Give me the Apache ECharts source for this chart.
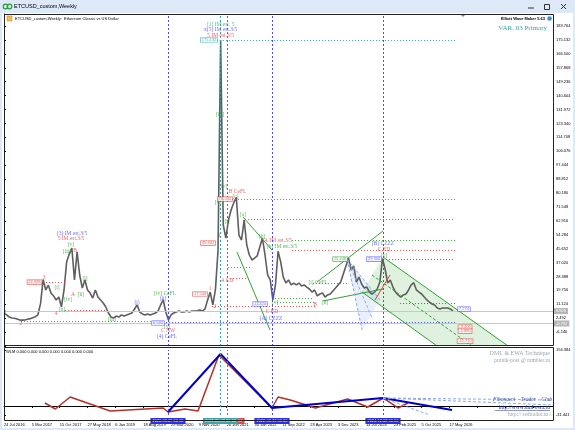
<!DOCTYPE html>
<html><head><meta charset="utf-8">
<script src="https://cdn.jsdelivr.net/npm/echarts/dist/echarts.min.js"></script>
<style>html,body{margin:0;padding:0;background:#fff}#c{width:575px;height:430px}</style>
</head><body><div id="c"></div>
<script>
// ---------- DATA ----------
const WEEK_STEP = 3; // weeks between price samples, week 0 = 24 Jul 2016
const prices = [5.5,4.5,3.2,2.6,2.4,2.0,1.4,1.3,1.4,1.8,
 2.2,2.8,3.4,4.6,11.5,26.5,20.0,23.0,18.1,16.3,
 13.8,15.6,9.5,20.0,37.4,42.3,46.0,26.2,43.6,29.3,
 21.2,26.2,20.0,18.1,15.0,20.0,15.6,13.8,11.9,9.4,
 5.7,3.2,2.6,3.8,3.2,4.5,3.8,4.5,5.1,5.7,
 8.2,10.7,6.3,5.1,4.5,5.1,4.5,5.1,5.7,6.9,
 10.7,13.8,6.3,1.4,4.5,5.7,6.3,6.9,6.3,6.3,
 6.9,6.3,6.9,6.9,6.9,7.6,6.9,8.2,13.8,18.7,
 10.7,20.0,44.8,175.1,60.3,52.2,63.4,69.6,74.0,77.5,
 54.1,51.0,63.4,47.9,41.7,38.6,39.8,41.1,46.7,52.2,
 41.7,29.3,26.2,13.8,23.1,44.0,37.4,28.0,24.3,26.2,
 23.1,24.3,23.1,24.3,22.5,23.1,21.8,20.6,18.7,20.0,
 16.3,17.5,18.1,15.6,16.9,17.5,19.4,21.2,23.1,24.9,
 29.9,34.9,39.8,32.4,34.9,24.9,28.0,23.7,21.2,21.8,
 18.7,17.5,18.7,20.6,24.9,39.5,33.0,24.3,26.2,21.8,
 18.7,16.9,15.6,16.9,17.5,20.0,23.1,24.5,20.0,18.7,
 17.5,15.6,13.8,12.5,11.3,10.7,8.8,8.2,8.8,8.8,
 8.8,8.2,6.9];
const dateLabels = ['24 Jul 2016','5 Mar 2017','15 Oct 2017','27 May 2018','6 Jan 2019','18 Aug 2019','29 Mar 2020','9 Nov 2020','20 Jun 2021','30 Jan 2022','11 Sep 2022','23 Apr 2023','3 Dec 2023','14 Jul 2024','23 Feb 2025','5 Oct 2025','17 May 2026'];
const priceTicks = ['183.764','175.132','166.500','157.868','149.236','140.604','131.972','123.340','114.708','106.076','97.444','88.812','80.180','71.548','62.916','54.284','45.652','37.020','28.388','19.756','11.124','2.492','-6.140'];
const indTicks = ['194.384','-31.441'];
const indWeeks  = [47,59,76,122,183,188.5,208,223,247,308,315,329,358,395,418,436,453,464];
const indValues = [10.2,-10.6,31.1,-17.5,-7.1,-21.0,-10.6,-17.5,177.0,-7.1,31.1,20.7,-7.1,24.1,-3.6,27.6,-7.1,10.2];
const zigWeeks  = [188.5,248.9,308,435.6,515];
const zigValues = [-21.0,180.5,-7.1,27.6,-14.1];
const vLines = [[188.5,'blue','2020.03.09 00:00'],[256.3,'red','2021.06.21 00:00'],[248.9,'teal','2021.05.03 00:00'],[308,'blue','2022.06.13 00:00'],[435.6,'blue','2024.12.02 00:00']];
const hLines = [
 [244.8,518.4,175.13,'teal'],[262.1,518.4,76.44,'red'],[277,518.4,64.0,'green'],
 [331,518.4,51.0,'green'],[331,518.4,44.8,'red'],[435.6,518.4,39.2,'blue'],
 [27.6,70.1,24.9,'red'],[70.1,118.4,7.6,'red'],[19.5,185.1,0.7,'red'],
 [179.3,518.4,0.1,'blue'],[239.1,357.5,10.0,'red'],[311.5,355.2,15.0,'green'],
 [313.8,357.5,12.5,'green'],[257.5,282.8,34.3,'red'],[259.8,282.8,27.4,'red'],
 [355.2,394.3,24.3,'green'],[455.2,518.4,11.9,'blue']];
const grayLevels = [[6.9,'6.905'],[-0.8,'-0.792']];
const trendLines = [
 [274.7,65.3,308,44.8,'green','solid'],[267.8,43.6,305.7,-4.8,'green','solid'],
 [359.8,24.9,435.6,56.6,'green','solid'],[366.7,13.2,435.6,20.6,'green','solid'],
 [435.6,40.45,579.3,-14.77,'green','solid'],[411.5,18.7,497.7,-14.77,'green','solid'],
 [423,29.3,537.9,-14.77,'green','dashed'],
 [394.3,39.2,432.2,13.8,'lblue','dashed'],[394.3,39.2,423,2.6,'lblue','dashed'],[394.3,39.2,411.5,-4.8,'lblue','dashed'],
 [426.4,13.8,443.7,29.3,'red','solid']];
const channelPoly = [[435.6,40.45],[579.3,-14.77],[497.7,-14.77],[411.5,18.7]];
const fanPoly = [[394.3,39.2],[432.2,13.8],[411.5,-4.8]];
const indFan = [[435.6,27.6,631,20.7],[435.6,27.6,631,3.3],[435.6,27.6,489.4,-31.4]];
const waveLabels = [
 [249,185.0,'[1] IM est. 5','teal'],[249,181.3,'x(5) IM est.3/5','blue'],[249,177.6,'5 IM est.3/5','red'],
 [78.2,55.3,'(3) IM est.3/5','blue'],[77,51.6,'5 IM est.3/5','red'],[77,47.9,'[v]','green'],
 [72.4,43.6,'[iii]','green'],[81.6,44.2,'B','red'],[46,27.5,'3','red'],[60.9,21.2,'[i]','green'],
 [73.6,13.8,'[iv]','green'],[79.3,16.9,'A','red'],[88.5,16.9,'[ii]','green'],[93.1,26.8,'[i]','green'],
 [59.8,5.1,'4','red'],[66.7,7.6,'[ii]','green'],[2,5.7,'1','red'],[19.5,-1.1,'2','red'],
 [124.1,1.4,'[iii]','green'],[152.9,11.9,'(i)','blue'],[185.1,17.5,'[iv] CeFL','green'],
 [182.8,14.4,'(ii)','blue'],[187.4,-2.4,'[v]','green'],[188.5,-5.5,'C NW','red'],[187.4,-9.2,'(4) CeFL','blue'],
 [236.8,20.6,'1','red'],[242.5,10.0,'2','red'],[247.1,53.5,'3','red'],[248.3,128.6,'[iii]','green'],
 [251.7,83.9,'[iv]','green'],[246,74.0,'[v]','green'],[268.5,80.8,'B CeFL','red'],[266,77.7,'[c]','green'],
 [274.7,66.5,'[a]','green'],[296.6,53.0,'[b]','green'],[256.3,62.2,'[i]','green'],[256.3,25.6,'A LD','red'],
 [308,6.3,'C ED','red'],[306.9,2.0,'(A) CZZZ','blue'],[311.5,11.9,'[v]','green'],
 [314.9,50.4,'A IM est.3/5','red'],[319.5,46.7,'[b] IM est.3/5','green'],[357.5,10.7,'B','red'],
 [360.9,24.9,'[i] CeFL','green'],[369,11.9,'[ii]','green'],[435.6,49.1,'[B] CZZZ','blue'],
 [436.8,44.8,'C ED','red'],[436.8,41.3,'[v]','green']];
const priceBoxes = [
 [235.6,175.13,'175.132','teal'],[35,24.9,'24.928','red'],[177,-0.5,'0.542','blue'],
 [225.3,17.5,'17.508','red'],[234.5,49.1,'49.402','red'],[254,76.4,'76.440','red'],
 [294.3,11.3,'11.324','blue'],[386.2,39.2,'25.448','green'],[425.3,39.2,'29.300','blue'],
 [528.7,8.2,'7.274','blue'],[529.9,-3.0,'-3.406','red'],[529.9,-5.5,'-5.880','red'],[529.9,-11.7,'-11.710','red']];

// ---------- STYLE ----------
const C = {blue:'#4848ff', teal:'#2fa3a3', red:'#e04040', green:'#33a033', gray:'#c8c8c8', lblue:'#8fa7ef'};
const SANS = 'Liberation Sans', SERIF = 'Liberation Serif';

const chart = echarts.init(document.getElementById('c'), null, {renderer:'canvas'});

function seg(x1, y1, x2, y2, ls, label) {
  const a = {coord:[x1,y1], lineStyle:ls};
  if (label) a.label = label;
  return [a, {coord:[x2,y2], lineStyle:ls}];
}
const mlMain = [];
vLines.forEach(v => mlMain.push({xAxis:v[0], lineStyle:{color:C[v[1]], type:[2,2], width:1}}));
hLines.forEach(h => mlMain.push(seg(h[0], h[2], h[1], h[2], {color:C[h[3]], type:[1,2], width:1, opacity:0.9})));
grayLevels.forEach(g => mlMain.push(seg(0, g[0], 631, g[0], {color:'#c8c8c8', type:'solid', width:1},
  {show:true, position:'end', formatter:g[1], distance:1, backgroundColor:'#b5b5b5', color:'#fff', fontSize:4, fontFamily:SANS, padding:[1,2]})));
trendLines.forEach(t => mlMain.push(seg(t[0], t[1], t[2], t[3], {color:C[t[4]], type:t[5]==='dashed'?[3,2]:'solid', width:1})));

const mlInd = [];
vLines.forEach(v => mlInd.push({xAxis:v[0], lineStyle:{color:C[v[1]], type:[2,2], width:1},
  label:{show:true, position:'start', formatter:v[2], distance:3, color:'#fff', fontSize:4, fontFamily:SANS,
  backgroundColor: v[1]==='teal' ? '#3aa6a6' : (v[1]==='red' ? '#e04848' : '#2b2bff'), padding:[1,2]}}));
indFan.forEach(t => mlInd.push(seg(t[0], t[1], t[2], t[3], {color:C.lblue, type:[3,2], width:1})));

const option = {
  animation:false,
  backgroundColor:'#ffffff',
  grid:[{left:4, right:22, top:14, height:332}, {left:4, right:22, top:350, height:65}],
  xAxis:[
    {type:'value', gridIndex:0, min:0, max:631, interval:32, axisLine:{show:false}, axisTick:{show:false}, axisLabel:{show:false}, splitLine:{show:false}},
    {type:'value', gridIndex:1, min:0, max:631, interval:32, offset:6,
     axisLine:{show:true, lineStyle:{color:'#000'}}, axisTick:{show:true, length:2, lineStyle:{color:'#000'}},
     axisLabel:{show:true, margin:2, fontSize:4, fontFamily:SANS, color:'#000', align:'left',
       formatter:v => { const k = v/32; return Number.isInteger(k) && dateLabels[k] ? dateLabels[k] : ''; }},
     splitLine:{show:false}}
  ],
  yAxis:[
    {type:'value', gridIndex:0, position:'right', min:-14.772, max:191.25, interval:8.632,
     axisLine:{show:true, lineStyle:{color:'#000'}}, axisTick:{show:true, length:2, lineStyle:{color:'#000'}},
     axisLabel:{show:true, margin:3, fontSize:4, fontFamily:SANS, color:'#000',
       formatter:v => { const s = v.toFixed(3); return priceTicks.includes(s) ? s : ''; }},
     splitLine:{show:false}},
    {type:'value', gridIndex:1, position:'right', min:-31.441, max:194.384, interval:225.825,
     axisLine:{show:false}, axisTick:{show:true, length:2, lineStyle:{color:'#000'}},
     axisLabel:{show:true, margin:3, fontSize:4, fontFamily:SANS, color:'#000',
       formatter:v => { const s = v.toFixed(3); return indTicks.includes(s) ? s : ''; }},
     splitLine:{show:false}}
  ],
  series:[
    {type:'custom', xAxisIndex:0, yAxisIndex:0, data:[[0,0]], silent:true, z:1, clip:true,
     renderItem:(params, api) => ({type:'group', children:[
       {type:'polygon', shape:{points:channelPoly.map(q => api.coord(q))}, style:{fill:'rgba(110,195,110,0.22)'}},
       {type:'polygon', shape:{points:fanPoly.map(q => api.coord(q))}, style:{fill:'rgba(140,165,250,0.18)'}}
     ]})},
    {type:'line', name:'price', xAxisIndex:0, yAxisIndex:0, data:prices.map((p,i) => [i*WEEK_STEP, p]),
     symbol:'none', lineStyle:{color:'#5e5e5e', width:1.6}, z:3, silent:true,
     markLine:{silent:true, symbol:['none','none'], label:{show:false}, data:mlMain}},
    {type:'scatter', xAxisIndex:0, yAxisIndex:0, silent:true, z:6, symbolSize:1, itemStyle:{color:'rgba(0,0,0,0)'},
     label:{show:true, position:'inside', fontSize:5.5, fontFamily:SERIF},
     data:waveLabels.map(l => ({value:[l[0],l[1]], label:{formatter:l[2], color:C[l[3]]}}))},
    {type:'scatter', xAxisIndex:0, yAxisIndex:0, silent:true, z:7, symbolSize:1, itemStyle:{color:'rgba(0,0,0,0)'},
     label:{show:true, position:'inside', fontSize:4, fontFamily:SANS, backgroundColor:'#fff', borderWidth:0.6, padding:[0,1]},
     data:priceBoxes.map(b => ({value:[b[0],b[1]], label:{formatter:b[2], color:C[b[3]], borderColor:C[b[3]]}}))},
    {type:'line', name:'ind', xAxisIndex:1, yAxisIndex:1, data:indWeeks.map((w,i) => [w, indValues[i]]),
     symbol:'none', lineStyle:{color:'#b0302a', width:1.5}, z:3, silent:true,
     markLine:{silent:true, symbol:['none','none'], label:{show:false}, data:mlInd}},
    {type:'line', name:'zig', xAxisIndex:1, yAxisIndex:1, data:zigWeeks.map((w,i) => [w, zigValues[i]]),
     symbol:'none', lineStyle:{color:'#0000cc', width:2}, z:4, silent:true}
  ],
  graphic:[
    {type:'rect', shape:{x:0,y:0,width:575,height:13}, style:{fill:'#dde9f6'}, z:100},
    {type:'rect', shape:{x:0,y:13,width:2,height:417}, style:{fill:'#dde9f6'}, z:100},
    {type:'rect', shape:{x:573,y:13,width:2,height:417}, style:{fill:'#dde9f6'}, z:100},
    {type:'rect', shape:{x:0,y:428,width:575,height:2}, style:{fill:'#dde9f6'}, z:100},
    {type:'circle', shape:{cx:5.5,cy:6.5,r:2.3}, style:{fill:'none', stroke:'#2f9a3a', lineWidth:1.2}, z:101},
    {type:'circle', shape:{cx:9.5,cy:6.5,r:2.3}, style:{fill:'none', stroke:'#2f9a3a', lineWidth:1.2}, z:101},
    {type:'text', style:{x:14, y:6.5, text:'ETCUSD_custom,Weekly', fontSize:5.5, fontFamily:SANS, fill:'#000', verticalAlign:'middle'}, z:101},
    {type:'line', shape:{x1:528,y1:8,x2:534,y2:8}, style:{stroke:'#333', lineWidth:1}, z:101},
    {type:'rect', shape:{x:544.5,y:4.5,width:5,height:5}, style:{fill:'none', stroke:'#333', lineWidth:1}, z:101},
    {type:'line', shape:{x1:561,y1:4,x2:566,y2:9}, style:{stroke:'#333', lineWidth:1}, z:101},
    {type:'line', shape:{x1:566,y1:4,x2:561,y2:9}, style:{stroke:'#333', lineWidth:1}, z:101},
    {type:'rect', shape:{x:4.5,y:14.5,width:549,height:331}, style:{fill:'none', stroke:'#222', lineWidth:1}, z:90},
    {type:'rect', shape:{x:4.5,y:347.5,width:549,height:73}, style:{fill:'none', stroke:'#222', lineWidth:1}, z:90},
    {type:'rect', shape:{x:7,y:16,width:5,height:5}, style:{fill:'#f2c14e', stroke:'#b08020', lineWidth:0.5}, z:101},
    {type:'text', style:{x:15, y:18.5, text:'ETCUSD_custom,Weekly:  Ethereum Classic vs US Dollar', fontSize:4, fontFamily:SANS, fill:'#000', verticalAlign:'middle'}, z:101},
    {type:'text', style:{x:545, y:18.5, text:'Elliott Wave Maker 5.63', fontSize:4, fontWeight:'bold', fontFamily:SANS, fill:'#000', align:'right', verticalAlign:'middle'}, z:101},
    {type:'circle', shape:{cx:549.5,cy:18.5,r:2.3}, style:{fill:'#3b8fd9'}, z:101},
    {type:'text', style:{x:547, y:28.5, text:'VAR. 03 Primary', fontSize:7, fontFamily:SERIF, fill:'#35a5a5', align:'right', verticalAlign:'middle'}, z:101},
    {type:'polygon', shape:{points:[[461,15],[465,15],[463,17]]}, style:{fill:'#888'}, z:101},
    {type:'text', style:{x:6, y:351.5, text:'WLM 0.000 0.000 0.000 0.000 0.000 0.000 0.000', fontSize:4, fontFamily:SANS, fill:'#000', verticalAlign:'middle'}, z:101},
    {type:'text', style:{x:550, y:353, text:'DML & EWA Technique', fontSize:6, fontFamily:SERIF, fill:'#98a4b0', align:'right', verticalAlign:'middle'}, z:101},
    {type:'text', style:{x:550, y:361, text:'putnik-post @ rambler.ru', fontSize:5.5, fontFamily:SERIF, fill:'#98a4b0', align:'right', verticalAlign:'middle'}, z:101},
    {type:'text', style:{x:552, y:400, text:'Fibonacci    Trader    Club', fontSize:5.5, fontStyle:'italic', fontFamily:SERIF, fill:'#3050b0', align:'right', verticalAlign:'middle'}, z:101},
    {type:'text', style:{x:550, y:407.5, text:'http://www.dml-ewa.ru', fontSize:5.5, fontFamily:SERIF, fill:'#203090', align:'right', verticalAlign:'middle'}, z:101},
    {type:'line', shape:{x1:495,y1:410.5,x2:550,y2:410.5}, style:{stroke:'#203090', lineWidth:0.5}, z:101},
    {type:'text', style:{x:551, y:414.5, text:'http:// redtrader.ru /', fontSize:5.5, fontFamily:SERIF, fill:'#98a4b0', align:'right', verticalAlign:'middle'}, z:101}
  ]
};
chart.setOption(option);
</script></body></html>
